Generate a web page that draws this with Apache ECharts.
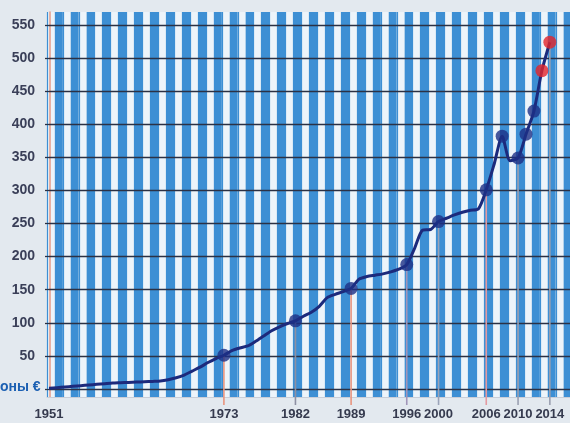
<!DOCTYPE html>
<html>
<head>
<meta charset="utf-8">
<script src="https://cdn.jsdelivr.net/npm/echarts@6/dist/echarts.min.js"></script>
<style>
html,body{margin:0;padding:0;background:#e3e9ef;}
#c{width:570px;height:423px;}
</style>
</head>
<body>
<div id="c"></div>
<script>
// ---- data ----
const years = [];
for (let y = 1951; y <= 2014; y++) years.push(y);
const values = [
  1, 2, 3, 4, 5, 6, 7, 8, 9, 9.5,
  10, 10.5, 11, 11.5, 12, 14, 17, 21, 27, 33,
  40, 46, 51, 58, 62, 65, 72, 80, 88, 94,
  99, 103, 110, 116, 125, 138, 143, 147, 152, 166,
  170, 172, 174, 177, 181, 188, 213, 240, 241, 253,
  258, 263, 267, 270, 272, 301, 340, 382, 345, 349,
  385, 420, 481, 524
];
const markerYears = [1973, 1982, 1989, 1996, 2000, 2006, 2008, 2010, 2011, 2012, 2013, 2014];
const redYears = [2013, 2014];
const labelYears = [1951, 1973, 1982, 1989, 1996, 2000, 2006, 2010, 2014];
const dropYears = [1973, 1982, 1989, 1996, 2000, 2006, 2010, 2014];
const dropColors = ['#e8957f', '#8d90a3', '#e8957f', '#a195b8', '#9aa3b8', '#e39aa0', '#9a9fb0', '#9a9fb0'];
const yUnitText = 'оны €';

const valueOf = y => values[years.indexOf(y)];

const chart = echarts.init(document.getElementById('c'), null, {renderer: 'canvas'});
const PX_PER_YEAR = 7.95;

chart.setOption({
  backgroundColor: '#e3e9ef',
  animation: false,
  grid: [
    {left: 47, right: 0, top: 12, bottom: 26, containLabel: false, outerBoundsMode: 'none'},
    {left: 49, right: 0, top: 25, bottom: 34, containLabel: false, outerBoundsMode: 'none'}
  ],
  xAxis: [
    {
      gridIndex: 0, type: 'value', min: 0, max: (570 - 47) / PX_PER_YEAR, interval: 1, z: 0,
      axisLine: {show: true, lineStyle: {color: '#c9ced8', width: 1}},
      axisTick: {show: false}, axisLabel: {show: false},
      splitLine: {show: true, lineStyle: {color: '#3d8fd4', width: 1.2}},
      splitArea: {show: true, areaStyle: {color: ['#edf4fa', '#3d8fd4']}}
    },
    {
      gridIndex: 1, type: 'value', min: 1951, max: 1951 + (570 - 49) / PX_PER_YEAR, interval: 1,
      axisLine: {show: false}, axisTick: {show: false}, splitLine: {show: false},
      axisLabel: {
        show: true, margin: 19, color: '#353a4e', fontWeight: 'bold', fontSize: 13,
        fontFamily: 'Liberation Sans, Arial, sans-serif',
        formatter: v => labelYears.indexOf(v) >= 0 ? String(v) : ''
      }
    }
  ],
  yAxis: [
    {
      gridIndex: 0, type: 'value', min: 0, max: 1, offset: -3,
      axisLine: {show: true, lineStyle: {color: '#e59a86', width: 1.5}},
      axisTick: {show: false}, axisLabel: {show: false}, splitLine: {show: false}
    },
    {
      gridIndex: 1, type: 'value', min: 0, max: 550, interval: 50, z: 1,
      axisLine: {show: false},
      axisTick: {show: true, length: 4, lineStyle: {color: '#2b3145', width: 1.3}},
      axisLabel: {
        margin: 14, color: '#3a3f58', fontWeight: 'bold', fontSize: 14,
        fontFamily: 'Liberation Sans, Arial, sans-serif',
        formatter: v => v === 0 ? '' : String(v)
      },
      splitLine: {show: true, lineStyle: {color: '#2b3145', width: 1.3}}
    }
  ],
  graphic: [{
    type: 'text', left: 0, top: 380,
    style: {text: yUnitText, fill: '#1b5fb2', font: 'bold 14px "Liberation Sans", Arial, sans-serif'}
  }],
  series: [
    {
      type: 'custom', xAxisIndex: 1, yAxisIndex: 1, z: 1, clip: false,
      data: dropYears.map((y, i) => ({value: [y, valueOf(y)], itemStyle: {color: dropColors[i]}})),
      renderItem: (params, api) => {
        const top = api.coord([api.value(0), api.value(1)]);
        const base = api.coord([api.value(0), 0]);
        return {
          type: 'line',
          shape: {x1: top[0], y1: top[1], x2: top[0], y2: base[1] + 16},
          style: {stroke: api.visual('color'), lineWidth: 1.6}
        };
      }
    },
    {
      type: 'line', xAxisIndex: 1, yAxisIndex: 1, z: 3,
      data: years.map((y, i) => [y, values[i]]),
      showSymbol: false, symbol: 'none', smooth: 0.25,
      lineStyle: {color: '#1c2a7c', width: 3}
    },
    {
      type: 'scatter', xAxisIndex: 1, yAxisIndex: 1, z: 4,
      symbolSize: 13,
      data: markerYears.map(y => ({
        value: [y, valueOf(y)],
        itemStyle: {color: redYears.indexOf(y) >= 0 ? '#e3242b' : '#1d2f86'}
      }))
    }
  ]
});
</script>
</body>
</html>
